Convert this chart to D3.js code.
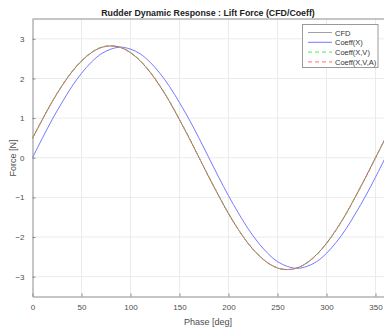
<!DOCTYPE html>
<html>
<head>
<meta charset="utf-8">
<script src="https://cdn.jsdelivr.net/npm/d3@7"></script>
<style>
  body { margin: 0; background: #fff; }
  svg { display: block; font-family: "Liberation Sans", Arial, sans-serif; }
</style>
</head>
<body>
<svg id="chart" width="384" height="330"></svg>
<script>
// phase samples [deg]
const phase = [0, 10, 20, 30, 40, 50, 60, 70, 80, 90, 100, 110, 120, 130, 140, 150, 160, 170, 180,
  190, 200, 210, 220, 230, 240, 250, 260, 270, 280, 290, 300, 310, 320, 330, 340, 350, 360];

const cfd = [0.49, 0.96, 1.41, 1.81, 2.16, 2.44, 2.65, 2.78, 2.82, 2.78, 2.65, 2.44, 2.16, 1.81, 1.41, 0.96, 0.49, 0.00,
  -0.49, -0.96, -1.41, -1.81, -2.16, -2.44, -2.65, -2.78, -2.82, -2.78, -2.65, -2.44, -2.16, -1.81, -1.41, -0.96, -0.49, 0.00, 0.49];
const coeffX = [0.00, 0.49, 0.96, 1.39, 1.79, 2.13, 2.41, 2.62, 2.74, 2.79, 2.74, 2.62, 2.41, 2.13, 1.79, 1.39, 0.96, 0.49, 0.00,
  -0.49, -0.96, -1.39, -1.79, -2.13, -2.41, -2.62, -2.74, -2.79, -2.74, -2.62, -2.41, -2.13, -1.79, -1.39, -0.96, -0.49, 0.00];
const coeffXV = [0.50, 0.97, 1.42, 1.82, 2.17, 2.45, 2.66, 2.79, 2.83, 2.79, 2.66, 2.45, 2.17, 1.82, 1.42, 0.97, 0.50, 0.01,
  -0.48, -0.95, -1.40, -1.81, -2.16, -2.44, -2.65, -2.78, -2.82, -2.78, -2.66, -2.45, -2.17, -1.82, -1.42, -0.97, -0.50, -0.01, 0.50];
const coeffXVA = [0.49, 0.96, 1.41, 1.81, 2.16, 2.44, 2.65, 2.78, 2.82, 2.78, 2.65, 2.44, 2.16, 1.81, 1.41, 0.96, 0.49, 0.00,
  -0.49, -0.96, -1.41, -1.81, -2.16, -2.44, -2.65, -2.78, -2.82, -2.78, -2.65, -2.44, -2.16, -1.81, -1.41, -0.96, -0.49, 0.00, 0.49];

const xTicks = [0, 50, 100, 150, 200, 250, 300, 350];
const yTicks = [-3, -2, -1, 0, 1, 2, 3];

const series = [
  { name: 'CFD', values: cfd, color: '#707070', dash: null },
  { name: 'Coeff(X)', values: coeffX, color: '#7878ff', dash: null },
  { name: 'Coeff(X,V)', values: coeffXV, color: '#4ce84c', dash: '4,3' },
  { name: 'Coeff(X,V,A)', values: coeffXVA, color: '#ff7070', dash: '4,3' }
];

const svg = d3.select('#chart');
const margin = { left: 32.5, right: 385.3, top: 19, bottom: 296.5 };

const x = d3.scaleLinear().domain([0, 360]).range([margin.left, margin.right]);
const y = d3.scaleLinear().domain([-3.5, 3.5]).range([margin.bottom, margin.top]);

// grid
svg.append('g').selectAll('line').data(xTicks.slice(1))
  .join('line')
  .attr('x1', d => x(d)).attr('x2', d => x(d))
  .attr('y1', margin.top).attr('y2', margin.bottom)
  .attr('stroke', '#ebebeb');
svg.append('g').selectAll('line').data(yTicks)
  .join('line')
  .attr('x1', margin.left).attr('x2', margin.right)
  .attr('y1', d => y(d)).attr('y2', d => y(d))
  .attr('stroke', '#ebebeb');

// axes
const xAxis = svg.append('g')
  .attr('transform', `translate(0,${margin.bottom})`)
  .call(d3.axisBottom(x).tickValues(xTicks).tickFormat(d3.format('d'))
    .tickSizeInner(-3).tickSizeOuter(0).tickPadding(8));
const yAxis = svg.append('g')
  .attr('transform', `translate(${margin.left},0)`)
  .call(d3.axisLeft(y).tickValues(yTicks).tickFormat(d3.format('d'))
    .tickSizeInner(-3).tickSizeOuter(0).tickPadding(8));
[xAxis, yAxis].forEach(a => {
  a.select('.domain').attr('stroke', '#8c8c8c');
  a.selectAll('.tick line').attr('stroke', '#8c8c8c');
  a.selectAll('.tick text').attr('fill', '#4d4d4d').style('font-size', '8px');
});

// box top
svg.append('line')
  .attr('x1', margin.left).attr('x2', margin.right)
  .attr('y1', margin.top).attr('y2', margin.top)
  .attr('stroke', '#8c8c8c');

// lines
const line = d3.line()
  .x((d, i) => x(phase[i]))
  .y(d => y(d))
  .curve(d3.curveCatmullRom);

svg.append('g').selectAll('path').data(series)
  .join('path')
  .attr('d', d => line(d.values))
  .attr('fill', 'none')
  .attr('stroke', d => d.color)
  .attr('stroke-width', 1)
  .attr('stroke-dasharray', d => d.dash);

// title and labels
svg.append('text')
  .attr('x', 208).attr('y', 15.5)
  .attr('text-anchor', 'middle')
  .style('font-size', '8.8px').style('font-weight', 'bold')
  .attr('fill', '#222')
  .text('Rudder Dynamic Response : Lift Force (CFD/Coeff)');
svg.append('text')
  .attr('x', 208).attr('y', 325)
  .attr('text-anchor', 'middle')
  .style('font-size', '9px')
  .attr('fill', '#4d4d4d')
  .text('Phase [deg]');
svg.append('text')
  .attr('transform', 'translate(16,158) rotate(-90)')
  .attr('text-anchor', 'middle')
  .style('font-size', '9px')
  .attr('fill', '#4d4d4d')
  .text('Force [N]');

// legend
const lg = svg.append('g');
lg.append('rect')
  .attr('x', 302.5).attr('y', 24.5).attr('width', 75.5).attr('height', 43)
  .attr('fill', '#fff').attr('stroke', '#9a9a9a');
const items = lg.selectAll('g').data(series).join('g')
  .attr('transform', (d, i) => `translate(0,${32.5 + i * 9.8})`);
items.append('line')
  .attr('x1', 308).attr('x2', 332)
  .attr('stroke', d => d.name === 'CFD' ? '#a0a0a0' : d.color)
  .attr('stroke-dasharray', d => d.dash);
items.append('text')
  .attr('x', 335).attr('y', 3)
  .style('font-size', '7.5px')
  .attr('fill', '#333')
  .text(d => d.name);
</script>
</body>
</html>
